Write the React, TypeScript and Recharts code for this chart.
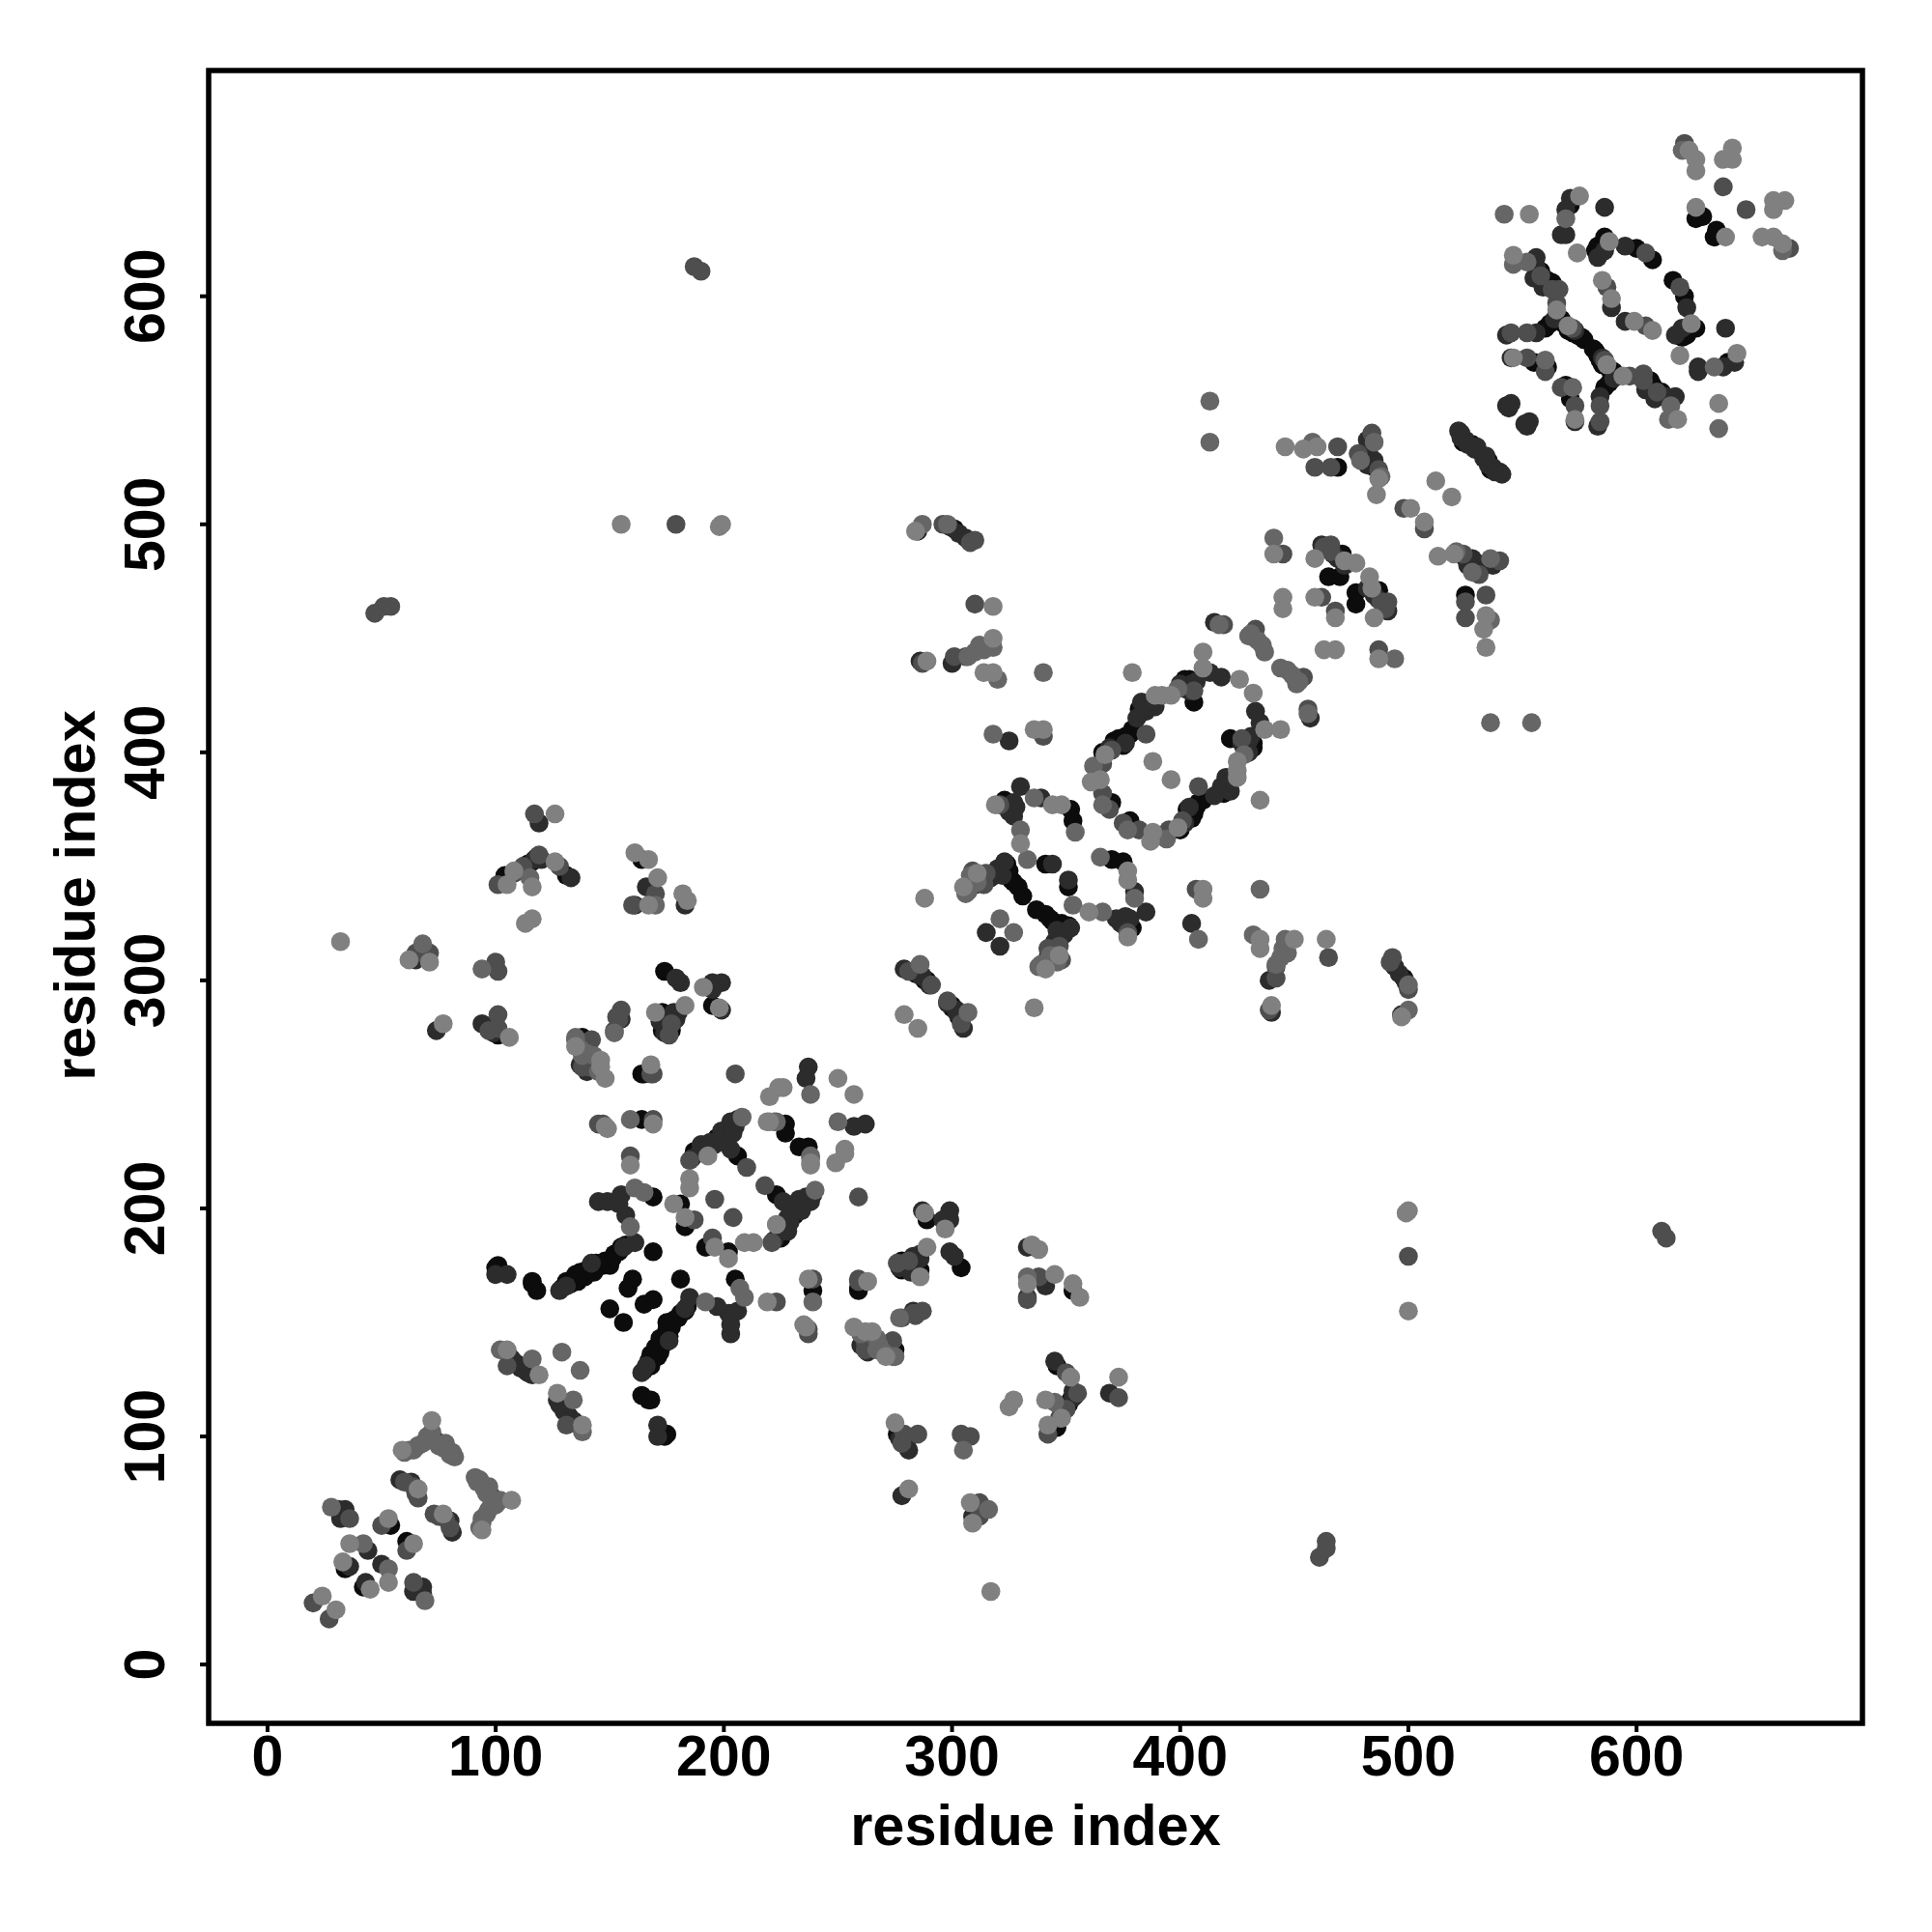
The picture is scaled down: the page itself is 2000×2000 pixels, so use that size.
import React from 'react';
import { ScatterChart, Scatter, XAxis, YAxis, ReferenceArea } from 'recharts';

// residue contacts [i, j] with i < j, the map is symmetric so each one is drawn at (i,j) and (j,i)
const contactsBlack = [
  [101,175],[100,174],[116,167],[118,164],[116,168],[134,169],[137,172],[140,173],[144,176],[151,178],[154,181],[157,184],
  [160,169],[158,165],[150,156],[169,205],[164,239],[164,259],[173,278],[177,278],[101,276],[187,225],[227,237],[227,233],
  [181,202],[183,192],[169,181],[206,223],[106,135],[113,129],[54,61],[34,42],
  [406,422],[382,419],[378,408],[375,405],[372,403],[370,378],[310,342],[326,344],[329,341],[331,337],[324,351],[341,351],[352,375],[353,370],
  [469,525],[528,535],[485,525],[471,487],[470,477],[571,640],[563,606],[560,586],[567,590],[574,583],[555,571],[561,569],
  [629,635],[626,634],[586,626],[584,619],[600,621],[607,616],[114,351],[116,352],[104,346],[131,346],[164,353],[174,304],
  [195,289],[173,286],[177,280],[138,275],[165,259],[301,498],[289,300],[375,403],[380,410],[402,432],[403,430],[322,350],[327,343],
  [141,174],[147,175],[139,170],[133,167],[558,611],[524,536],[585,621],[583,622],[570,585],
  [129,165],[131,168],[135,171],[138,172],[142,173],[145,175],[148,177],[150,175],[152,180],[155,183],[136,168],[143,172],
  [188,224],[192,226],[197,231],[201,232],[366,400],[371,405],[373,406],[376,407],[379,410],[402,428],[404,432],[312,344],[325,348],
  [326,374],[323,379],[562,588],[568,588],[572,584],[576,582],[577,581],[584,622],[587,624],[582,620],[561,607],[527,535],[465,477],
  [284,303],[288,300],[175,284],[176,279],[109,132],
];
const contactsDark = [
  [31,68],[34,68],[32,64],[36,43],[44,50],[58,81],[63,80],[74,98],[110,131],[116,127],[105,171],[100,171],[128,164],[161,185],
  [154,202],[155,206],[145,203],[149,203],[157,197],[137,263],[140,260],[155,283],[179,283],[196,228],[200,232],[202,235],[205,236],
  [237,262],[236,257],[203,226],[286,440],[300,439],[405,430],[413,435],[418,433],[383,422],[389,420],[385,418],[325,405],[330,385],
  [339,380],[326,377],[325,374],[327,372],[344,351],[320,349],[315,321],[482,537],[482,526],[523,540],[525,537],[543,552],[415,457],
  [571,643],[569,638],[569,627],[567,627],[586,639],[556,617],[559,604],[555,608],[543,583],[556,584],[545,573],[589,595],[595,622],
  [119,369],[166,341],[161,333],[181,299],[179,301],[195,299],[199,299],[195,296],[199,287],[74,278],[94,281],[65,309],[183,333],
  [180,286],[178,284],[279,305],[287,302],[523,538],[526,535],[544,551],[376,404],[386,420],[404,427],[317,345],[322,346],[154,204],
  [131,166],[142,176],[156,183],[190,226],[198,230],
  [186,222],[190,228],[194,229],[199,234],[203,238],[206,239],[204,233],[369,402],[381,415],[384,420],[387,422],[400,430],[407,431],
  [316,346],[318,347],[321,349],[323,352],[328,376],[327,378],[564,590],[573,585],[583,617],[586,620],[556,613],[522,541],[529,533],
  [530,534],[545,553],[285,497],[299,499],[303,496],[306,494],[283,304],[286,302],[290,298],[118,354],[120,353],[117,353],[133,345],
  [96,280],[98,279],[99,277],[172,282],[178,286],[174,277],[107,134],[111,130],[114,128],[462,491],[467,487],[469,485],[472,482],
  [483,530],[485,528],[480,529],
];
const contactsDeep = [
  [36,64],[50,61],[66,73],[20,27],[105,131],[159,223],[145,237],[147,237],[169,239],[185,221],[187,195],[196,204],[210,218],
  [142,274],[141,262],[152,278],[154,283],[169,259],[97,278],[301,442],[406,427],[385,408],[370,401],[366,395],[366,382],[369,375],
  [321,377],[340,407],[315,347],[469,534],[459,525],[466,525],[484,540],[498,507],[445,487],[466,491],[462,468],[433,454],[419,456],
  [545,584],[552,584],[572,586],[566,603],[565,597],[552,573],[560,567],[587,604],[604,619],[621,667],[638,648],[117,373],[119,355],
  [101,342],[170,338],[160,333],[65,312],[71,312],[100,308],[101,304],[101,285],[101,279],[155,287],[153,284],[177,281],[176,276],
  [168,259],[205,259],[47,461],[51,464],[54,464],[187,613],[190,611],[179,500],[310,493],[310,465],[287,439],[306,442],[291,298],[281,304],
  [108,347],[110,348],[112,350],[128,350],[308,492],[296,500],[138,262],[144,264],[60,80],[64,78],[65,75],[433,450],[463,490],[466,488],
  [487,524],[478,531],[558,609],[563,603],[314,342],[309,348],
];
const contactsMid = [
  [28,69],[42,53],[62,94],[66,96],[72,102],[78,97],[81,93],[82,91],[102,138],[116,134],[129,137],[159,192],[161,209],[135,275],[138,267],
  [143,267],[159,239],[165,207],[208,240],[238,250],[238,223],[222,238],[307,442],[310,444],[314,445],[320,432],[318,408],[362,394],
  [366,377],[330,366],[336,380],[354,365],[333,353],[308,346],[307,339],[321,327],[413,554],[413,536],[441,494],[458,536],[485,536],
  [479,528],[430,451],[542,636],[569,634],[546,614],[552,615],[560,572],[68,316],[94,305],[115,345],[170,333],[152,277],[135,274],
  [298,500],[287,500],[318,446],[286,307],[340,435],[312,447],[399,428],[620,664],
  [60,93],[64,94],[68,97],[70,100],[75,96],[77,95],[80,92],[137,270],[140,268],[145,260],[431,452],[434,449],[437,444],[436,447],[488,521],[417,456],
  [306,338],[309,342],[311,343],
];
const contactsLight = [
  [24,30],[53,64],[36,53],[33,45],[66,77],[59,94],[72,107],[105,138],[119,127],[159,219],[148,236],[149,235],[169,237],[146,265],
  [146,262],[148,257],[168,263],[106,275],[193,223],[220,249],[224,253],[226,253],[238,219],[220,238],[178,202],[185,213],[185,209],
  [183,196],[250,257],[289,440],[318,450],[314,435],[318,435],[379,435],[410,444],[410,437],[426,432],[396,425],[389,425],[392,425],
  [367,399],[361,387],[365,388],[344,377],[348,377],[330,360],[340,410],[336,410],[319,377],[288,336],[446,534],[454,533],[460,534],
  [487,520],[486,513],[501,507],[512,519],[441,487],[459,485],[472,484],[477,483],[445,468],[445,463],[459,468],[575,644],[546,618],
  [546,573],[553,636],[574,619],[570,587],[565,594],[589,599],[588,624],[585,607],[638,660],[642,665],[642,660],[623,664],[626,660],
  [626,655],[626,639],[126,373],[167,353],[171,345],[161,356],[167,333],[182,338],[184,335],[126,352],[105,342],[108,348],[116,341],
  [116,327],[113,325],[32,317],[62,309],[71,308],[77,281],[191,297],[198,288],[183,289],[170,286],[135,271],[284,497],[318,464],
  [279,285],[155,500],[199,500],[396,388],[198,499],[305,341],[311,347],
];

const tickValues = [0, 100, 200, 300, 400, 500, 600];
const axisMin = -25.8;
const axisMax = 699;
const font = '"Liberation Sans", Arial, sans-serif';

const bothWays = (pairs: number[][]) =>
  pairs.flatMap(([i, j]) => [{ x: i, y: j }, { x: j, y: i }]);

const series = [
  { data: contactsBlack, fill: '#0c0c0c' },
  { data: contactsDark, fill: '#2c2c2c' },
  { data: contactsDeep, fill: '#4e4e4e' },
  { data: contactsMid, fill: '#666666' },
  { data: contactsLight, fill: '#808080' },
];

const Dot = (props: any) => <circle cx={props.cx} cy={props.cy} r={9.8} fill={props.fill} />;

const XTick = ({ x, y, payload }: any) => (
  <text x={x} y={y + 43} textAnchor="middle" fontFamily={font} fontWeight="bold" fontSize={59} fill="#000">
    {payload.value}
  </text>
);

const YTick = ({ x, y, payload }: any) => (
  <text
    x={x - 35}
    y={y}
    transform={`rotate(-90 ${x - 35} ${y})`}
    textAnchor="middle"
    fontFamily={font}
    fontWeight="bold"
    fontSize={59}
    fill="#000"
  >
    {payload.value}
  </text>
);

export default function App() {
  return (
    <div style={{ position: 'absolute', left: 0, top: 0, width: 2000, height: 2000, background: '#fff' }}>
      <ScatterChart width={2000} height={2000} margin={{ top: 73, right: 72, bottom: 0, left: 0 }}>
        <XAxis
          type="number"
          dataKey="x"
          domain={[axisMin, axisMax]}
          ticks={tickValues}
          height={216}
          tickSize={9}
          tick={XTick}
          tickLine={{ stroke: '#000', strokeWidth: 4 }}
          axisLine={false}
          interval={0}
        />
        <YAxis
          type="number"
          dataKey="y"
          domain={[axisMin, axisMax]}
          ticks={tickValues}
          width={216}
          tickSize={9}
          tick={YTick}
          tickLine={{ stroke: '#000', strokeWidth: 4 }}
          axisLine={false}
          interval={0}
        />
        {series.map((s, idx) => (
          <Scatter key={idx} data={bothWays(s.data)} fill={s.fill} shape={Dot} isAnimationActive={false} />
        ))}
        <ReferenceArea x1={axisMin} x2={axisMax} y1={axisMin} y2={axisMax} fill="none" stroke="#000" strokeWidth={5.5} ifOverflow="visible" />
        <text x={1072} y={1910} textAnchor="middle" fontFamily={font} fontWeight="bold" fontSize={59.5} fill="#000">
          residue index
        </text>
        <text x={98} y={927} transform="rotate(-90 98 927)" textAnchor="middle" fontFamily={font} fontWeight="bold" fontSize={59.5} fill="#000">
          residue index
        </text>
      </ScatterChart>
    </div>
  );
}
